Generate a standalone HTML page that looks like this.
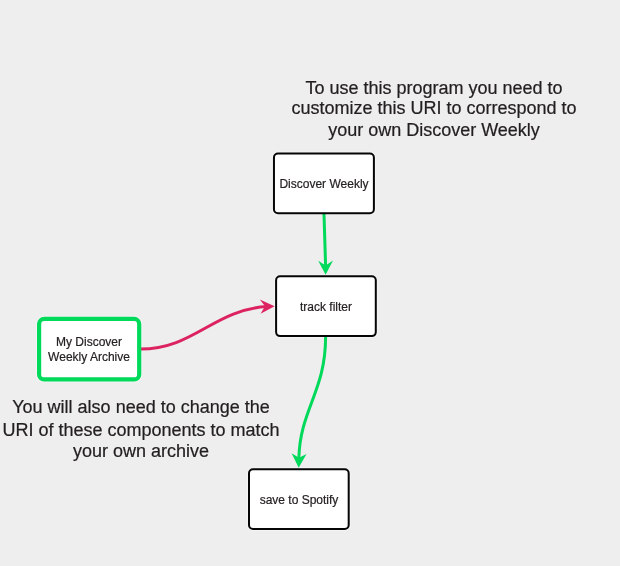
<!DOCTYPE html>
<html><head><meta charset="utf-8">
<style>
html,body{margin:0;padding:0;background:#eeeeee;}
body{width:620px;height:566px;overflow:hidden;position:relative;font-family:"Liberation Sans",sans-serif;}
svg{position:absolute;left:0;top:0;will-change:transform;}
.note{font-size:18px;fill:#231e1f;stroke:#231e1f;stroke-width:0.22px;}
.lbl{font-size:12px;fill:#262223;stroke:#262223;stroke-width:0.2px;}
</style></head><body>
<svg width="620" height="566" viewBox="0 0 620 566">
  <!-- top note -->
  <text class="note" text-anchor="middle" x="434" y="94">To use this program you need to</text>
  <text class="note" text-anchor="middle" x="434" y="114">customize this URI to correspond to</text>
  <text class="note" text-anchor="middle" x="434" y="136">your own Discover Weekly</text>

  <!-- bottom note -->
  <text class="note" text-anchor="middle" x="141" y="413">You will also need to change the</text>
  <text class="note" text-anchor="middle" x="141" y="436">URI of these components to match</text>
  <text class="note" text-anchor="middle" x="141" y="457">your own archive</text>

  <!-- halos -->
  <rect x="273.95" y="153.5" width="99.95" height="59.8" rx="4" fill="none" stroke="#f4f4f4" stroke-width="4"/>
  <rect x="276.1" y="276.2" width="99.7" height="59.9" rx="4" fill="none" stroke="#f4f4f4" stroke-width="4"/>
  <rect x="39.1" y="318.9" width="100.1" height="60.5" rx="5" fill="none" stroke="#f4f4f4" stroke-width="6.2"/>
  <rect x="249" y="469.3" width="99.7" height="59.7" rx="4" fill="none" stroke="#f4f4f4" stroke-width="4"/>

  <!-- edges -->
  <path d="M324 214 L325.6 266" stroke="#00d95a" stroke-width="3" fill="none"/>
  <path d="M318.2 260.8 L325.6 274.8 L333 260.6 L325.6 265.5 Z" fill="#00d95a"/>

  <path d="M140.5 349 C193.98 349 212.89 310.06 266.75 306.55" stroke="#dc2360" stroke-width="3" fill="none"/>
  <path d="M259.8 299.5 L274.6 306.2 L260.6 313.8 L265 306.3 Z" fill="#dc2360"/>

  <path d="M325.6 337 C325.6 391.54 300.18 409.09 298.85 458.01" stroke="#00d95a" stroke-width="3" fill="none"/>
  <path d="M291.6 453.2 L298.7 467.8 L306.5 454 L299 457.7 Z" fill="#00d95a"/>

  <!-- nodes -->
  <rect x="273.95" y="153.5" width="99.95" height="59.8" rx="4" fill="#fff" stroke="#050505" stroke-width="2"/>
  <text class="lbl" text-anchor="middle" x="324" y="188">Discover Weekly</text>

  <rect x="276.1" y="276.2" width="99.7" height="59.9" rx="4" fill="#fff" stroke="#050505" stroke-width="2"/>
  <text class="lbl" text-anchor="middle" x="326" y="311">track filter</text>

  <rect x="39.1" y="318.9" width="100.1" height="60.5" rx="5" fill="#fff" stroke="#00d95a" stroke-width="4.2"/>
  <text class="lbl" text-anchor="middle" x="89" y="346">My Discover</text>
  <text class="lbl" text-anchor="middle" x="89" y="361">Weekly Archive</text>

  <rect x="249" y="469.3" width="99.7" height="59.7" rx="4" fill="#fff" stroke="#050505" stroke-width="2"/>
  <text class="lbl" text-anchor="middle" x="299" y="504">save to Spotify</text>
</svg>
</body></html>
